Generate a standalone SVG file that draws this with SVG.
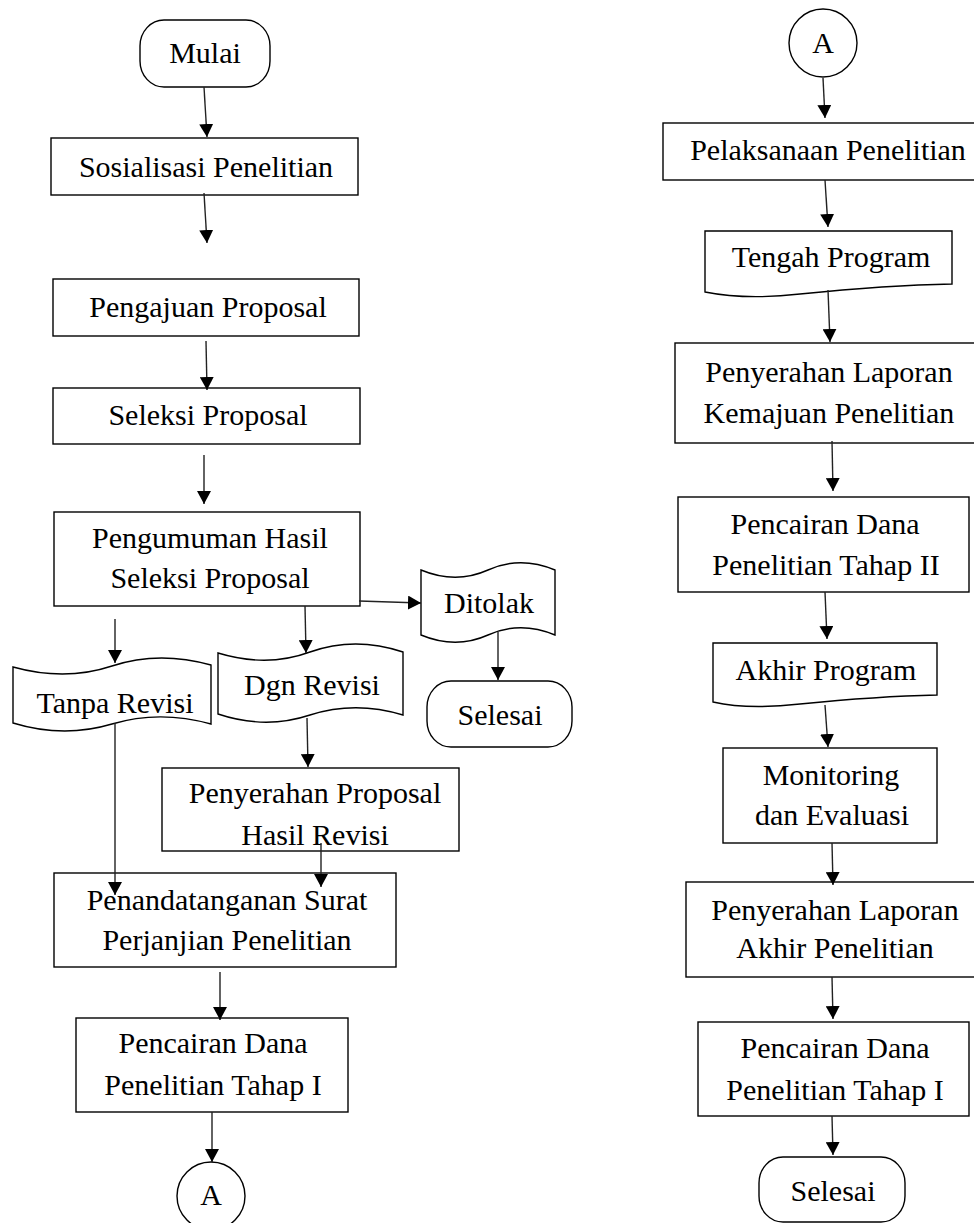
<svg xmlns="http://www.w3.org/2000/svg" width="974" height="1223" viewBox="0 0 974 1223">
<style>
.s{fill:#fff;stroke:#000;stroke-width:1.4}
.t{font-family:"Liberation Serif","Times New Roman",serif;font-size:30px;fill:#000;text-anchor:middle}
.c{fill:none;stroke:#222;stroke-width:1.4;marker-end:url(#ah)}
</style>
<defs>
<marker id="ah" markerUnits="userSpaceOnUse" markerWidth="14" markerHeight="14" refX="13" refY="7" orient="auto">
<path d="M0,0 L13,7 L0,14 z" fill="#000"/>
</marker>
</defs>
<rect width="974" height="1223" fill="#fff"/>

<g id="mulai"><rect class="s" x="140" y="20" width="130" height="67" rx="24" ry="26"/><text class="t" x="205" y="63">Mulai</text></g>
<g id="sosialisasi"><rect class="s" x="51" y="138" width="307" height="57"/><text class="t" x="206" y="177">Sosialisasi Penelitian</text></g>
<g id="pengajuan"><rect class="s" x="53" y="279" width="306" height="57"/><text class="t" x="208" y="317">Pengajuan Proposal</text></g>
<g id="seleksi"><rect class="s" x="53" y="388" width="307" height="56"/><text class="t" x="208" y="425">Seleksi Proposal</text></g>
<g id="pengumuman"><rect class="s" x="54" y="512" width="306" height="94"/><text class="t" x="210" y="548">Pengumuman Hasil</text><text class="t" x="210" y="588">Seleksi Proposal</text></g>
<g id="ditolak"><path class="s" d="M421,570 C445,580 468,579 488,570 C508,561 531,560 555,570 L555,635 C531,625 508,626 488,635 C468,644 445,645 421,635 Z"/><text class="t" x="489" y="613">Ditolak</text></g>
<g id="selesai1"><rect class="s" x="427" y="681" width="145" height="66" rx="24" ry="26"/><text class="t" x="500" y="725">Selesai</text></g>
<g id="tanpa"><path class="s" d="M13,667 C49,677 82,676 112,666 C142,656 175,655 211,665 L211,724 C175,714 142,715 112,724 C82,733 49,734 13,723 Z"/><text class="t" x="115" y="713">Tanpa Revisi</text></g>
<g id="dgn"><path class="s" d="M218,653 C251,663 283,662 310,652 C338,642 370,641 403,652 L403,715 C370,705 338,706 310,715 C283,724 251,725 218,714 Z"/><text class="t" x="312" y="695">Dgn Revisi</text></g>
<g id="penyerahanproposal"><rect class="s" x="162" y="768" width="297" height="83"/><text class="t" x="315" y="803">Penyerahan Proposal</text><text class="t" x="315" y="845">Hasil Revisi</text></g>
<g id="penandatanganan"><rect class="s" x="54" y="873" width="342" height="94"/><text class="t" x="227" y="910">Penandatanganan Surat</text><text class="t" x="227" y="950">Perjanjian Penelitian</text></g>
<g id="pencairan1"><rect class="s" x="76" y="1018" width="272" height="94"/><text class="t" x="213" y="1053">Pencairan Dana</text><text class="t" x="213" y="1095">Penelitian Tahap I</text></g>
<g id="a1"><circle class="s" cx="211" cy="1196" r="34"/><text class="t" x="211" y="1205">A</text></g>

<g id="a2"><circle class="s" cx="823" cy="43" r="34"/><text class="t" x="823" y="53">A</text></g>
<g id="pelaksanaan"><rect class="s" x="663" y="123" width="330" height="57"/><text class="t" x="828" y="160">Pelaksanaan Penelitian</text></g>
<g id="tengah"><path class="s" d="M705,231 H952 V284 C900,285 840,290 800,294 C765,298 730,297 705,292 Z"/><text class="t" x="831" y="267">Tengah Program</text></g>
<g id="kemajuan"><rect class="s" x="675" y="343" width="320" height="100"/><text class="t" x="829" y="382">Penyerahan Laporan</text><text class="t" x="829" y="423">Kemajuan Penelitian</text></g>
<g id="pencairan2"><rect class="s" x="678" y="497" width="291" height="95"/><text class="t" x="825" y="534">Pencairan Dana</text><text class="t" x="826" y="575">Penelitian Tahap II</text></g>
<g id="akhir"><path class="s" d="M713,643 H937 V695 C890,696 840,700 800,704 C765,708 735,707 713,702 Z"/><text class="t" x="826" y="680">Akhir Program</text></g>
<g id="monitoring"><rect class="s" x="723" y="748" width="214" height="95"/><text class="t" x="831" y="785">Monitoring</text><text class="t" x="832" y="825">dan Evaluasi</text></g>
<g id="laporanakhir"><rect class="s" x="686" y="882" width="310" height="95"/><text class="t" x="835" y="920">Penyerahan Laporan</text><text class="t" x="835" y="958">Akhir Penelitian</text></g>
<g id="pencairan3"><rect class="s" x="698" y="1022" width="271" height="94"/><text class="t" x="835" y="1058">Pencairan Dana</text><text class="t" x="835" y="1100">Penelitian Tahap I</text></g>
<g id="selesai2"><rect class="s" x="759" y="1157" width="146" height="65" rx="24" ry="26"/><text class="t" x="833" y="1201">Selesai</text></g>

<g id="connectors">
<path class="c" d="M204,87 L207,137"/>
<path class="c" d="M204,193 L207,243"/>
<path class="c" d="M206,341 L207,390"/>
<path class="c" d="M204,455 L204,504"/>
<path class="c" d="M359,601 L421,603"/>
<path class="c" d="M498,632 L498,680"/>
<path class="c" d="M115,619 L115,663"/>
<path class="c" d="M305,606 L306,653"/>
<path class="c" d="M307,718 L308,767"/>
<path class="c" d="M115,723 L115,895"/>
<path class="c" d="M321,843 L321,887"/>
<path class="c" d="M220,972 L220,1020"/>
<path class="c" d="M212,1112 L212,1162"/>
<path class="c" d="M823,78 L825,118"/>
<path class="c" d="M825,180 L828,227"/>
<path class="c" d="M828,290 L830,342"/>
<path class="c" d="M832,441 L833,491"/>
<path class="c" d="M825,592 L827,639"/>
<path class="c" d="M825,705 L828,747"/>
<path class="c" d="M832,843 L833,885"/>
<path class="c" d="M832,977 L833,1019"/>
<path class="c" d="M832,1116 L833,1155"/>
</g>
</svg>
